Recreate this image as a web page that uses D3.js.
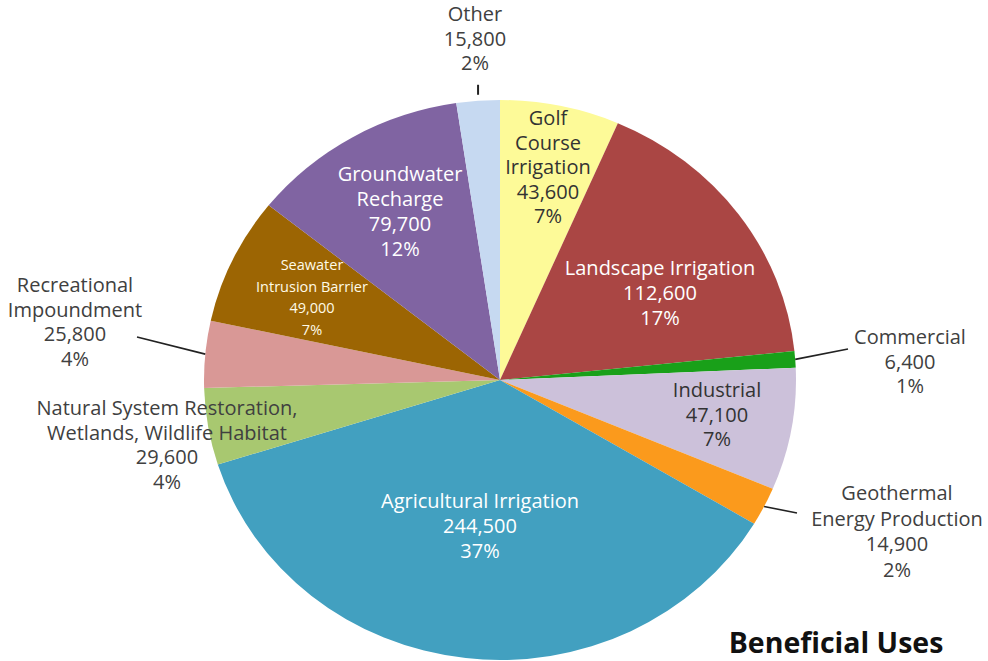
<!DOCTYPE html>
<html><head><meta charset="utf-8">
<script src="https://cdn.jsdelivr.net/npm/d3@7"></script>
<style>body{margin:0;background:#fff}svg{display:block}text{font-family:"Open Sans",Lato,sans-serif}</style>
</head><body>
<svg id="c" width="988" height="661"></svg>
<script>
const categories = ["Golf Course Irrigation","Landscape Irrigation","Commercial","Industrial","Geothermal Energy Production","Agricultural Irrigation","Natural System Restoration, Wetlands, Wildlife Habitat","Recreational Impoundment","Seawater Intrusion Barrier","Groundwater Recharge","Other"];
const values = [43600,112600,6400,47100,14900,244500,29600,25800,49000,79700,15800];
const percents = ["7%","17%","1%","7%","2%","37%","4%","4%","7%","12%","2%"];
const labelLines = [
  ["Golf","Course","Irrigation"],
  ["Landscape Irrigation"],
  ["Commercial"],
  ["Industrial"],
  ["Geothermal","Energy Production"],
  ["Agricultural Irrigation"],
  ["Natural System Restoration,","Wetlands, Wildlife Habitat"],
  ["Recreational","Impoundment"],
  ["Seawater","Intrusion Barrier"],
  ["Groundwater","Recharge"],
  ["Other"]
];
const colors = ["#fdfa98","#aa4644","#19a019","#ccc1da","#fb9a1c","#42a0c0","#a8c870","#d99896","#9c6503","#8064a2","#c6d9f1"];

// layout config (label anchor positions, styles)
const cx = 500, cy = 380, R = 280, sx = 296/280;
const FS = 20;
const labelPos = [
  {x:548,y:118,lh:24.5,col:"#333",fs:FS},
  {x:660,y:268,lh:25,col:"#fff",fs:FS},
  {x:910,y:337,lh:24.5,col:"#404040",fs:FS,leader:[848,349]},
  {x:717,y:390,lh:24.5,col:"#333",fs:FS},
  {x:897,y:493,lh:25.5,col:"#404040",fs:FS,leader:[797,513]},
  {x:480,y:501,lh:25,col:"#fff",fs:FS},
  {x:167,y:408,lh:24.5,col:"#404040",fs:FS},
  {x:75,y:285,lh:24.5,col:"#404040",fs:FS,leader:[137,337]},
  {x:312,y:265,lh:21.5,col:"#fffbe8",fs:14.5},
  {x:400,y:174,lh:25,col:"#fff",fs:FS},
  {x:475,y:14,lh:24.5,col:"#404040",fs:FS,tick:true}
];

const svg = d3.select("#c");
const pie = d3.pie().sort(null).value(d=>d)(values);
const arc = d3.arc().innerRadius(0).outerRadius(R);
const g = svg.append("g").attr("transform",`translate(${cx},${cy}) scale(${sx},1)`);
g.selectAll("path").data(pie).join("path")
  .attr("d",arc).attr("fill",(d,i)=>colors[i]);

const fmt = d3.format(",");
pie.forEach((d,i)=>{
  const p = labelPos[i];
  const lines = labelLines[i].concat([fmt(values[i]), percents[i]]);
  const t = svg.append("text").attr("text-anchor","middle").attr("fill",p.col)
    .attr("font-size",p.fs);
  lines.forEach((s,k)=>{
    t.append("tspan").attr("x",p.x).attr("y",p.y+k*p.lh).attr("dy","0.35em").text(s);
  });
  const mid = (d.startAngle+d.endAngle)/2;
  const ex = cx + sx*R*Math.sin(mid), ey = cy - R*Math.cos(mid);
  if (p.leader){
    svg.append("line").attr("x1",ex).attr("y1",ey).attr("x2",p.leader[0]).attr("y2",p.leader[1])
      .attr("stroke","#222").attr("stroke-width",1.6);
  }
  if (p.tick){
    svg.append("line").attr("x1",ex).attr("y1",ey-6).attr("x2",ex).attr("y2",ey-16)
      .attr("stroke","#222").attr("stroke-width",2);
  }
});

svg.append("text").attr("x",836).attr("y",643).attr("dy","0.35em").attr("text-anchor","middle")
  .attr("font-size",28.5).attr("font-weight","bold").attr("fill","#111").text("Beneficial Uses");
</script>
</body></html>
